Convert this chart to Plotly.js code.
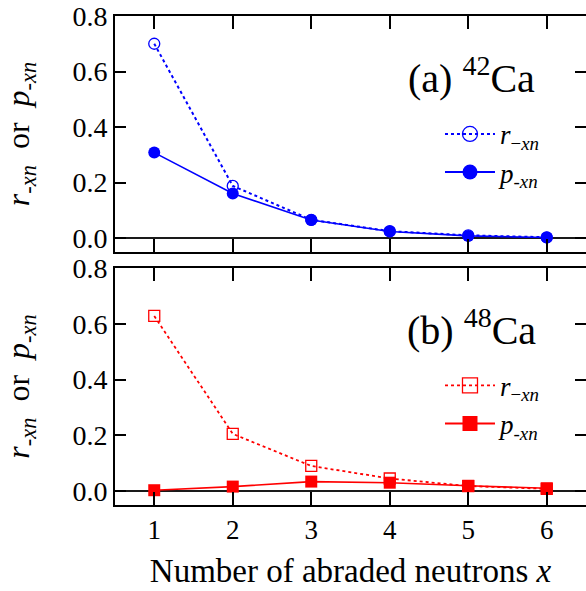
<!DOCTYPE html>
<html>
<head>
<meta charset="utf-8">
<script src="https://cdn.plot.ly/plotly-3.0.1.min.js"></script>
<style>html,body{margin:0;padding:0;background:#fff;}#chart{width:586px;height:591px;}</style>
</head>
<body>
<div id="chart"></div>
<script>
// Data
var xVals = [1, 2, 3, 4, 5, 6];
var ca42_r = [0.700, 0.188, 0.066, 0.025, 0.010, 0.003];
var ca42_p = [0.308, 0.161, 0.065, 0.024, 0.008, 0.002];
var ca48_r = [0.628, 0.205, 0.090, 0.045, 0.018, 0.008];
var ca48_p = [0.003, 0.016, 0.034, 0.030, 0.019, 0.010];
var xTickLabels = ['1', '2', '3', '4', '5', '6'];
var yTickVals = [0, 0.2, 0.4, 0.6, 0.8];
var rName = '<i>r</i><sub>\u2212<i>xn</i></sub>';
var pName = '<i>p</i><sub>-<i>xn</i></sub>';
var yTitle = '<i>r</i><sub>-<i>xn</i></sub>  or  <i>p</i><sub>-<i>xn</i></sub>';
var labelA = '(a) <sup>42</sup>Ca';
var labelB = '(b) <sup>48</sup>Ca';

var BLUE = '#0000ff', RED = '#ff0000';
var FONT = '"Liberation Serif", "Times New Roman", Times, serif';

var traces = [
  {x: xVals, y: ca42_r, xaxis: 'x', yaxis: 'y', mode: 'lines+markers', showlegend: false,
   line: {color: BLUE, width: 2, dash: 'dot'},
   marker: {symbol: 'circle-open', size: 11, color: BLUE, line: {width: 1.3, color: BLUE}}},
  {x: xVals, y: ca42_p, xaxis: 'x', yaxis: 'y', mode: 'lines+markers', showlegend: false,
   line: {color: BLUE, width: 1.6},
   marker: {symbol: 'circle', size: 12, color: BLUE}},
  {x: xVals, y: ca48_r, xaxis: 'x2', yaxis: 'y2', mode: 'lines+markers', showlegend: false,
   line: {color: RED, width: 1.8, dash: 'dot'},
   marker: {symbol: 'square-open', size: 11, color: RED, line: {width: 1.3, color: RED}}},
  {x: xVals, y: ca48_p, xaxis: 'x2', yaxis: 'y2', mode: 'lines+markers', showlegend: false,
   line: {color: RED, width: 1.6},
   marker: {symbol: 'square', size: 12, color: RED}},
  // legend entries (larger legend symbols)
  {x: [null], y: [null], xaxis: 'x', yaxis: 'y', mode: 'lines+markers', name: rName, legend: 'legend',
   line: {color: BLUE, width: 2, dash: 'dot'},
   marker: {symbol: 'circle-open', size: 15, color: BLUE, line: {width: 1.3, color: BLUE}}},
  {x: [null], y: [null], xaxis: 'x', yaxis: 'y', mode: 'lines+markers', name: pName, legend: 'legend',
   line: {color: BLUE, width: 2},
   marker: {symbol: 'circle', size: 15, color: BLUE}},
  {x: [null], y: [null], xaxis: 'x2', yaxis: 'y2', mode: 'lines+markers', name: rName, legend: 'legend2',
   line: {color: RED, width: 1.8, dash: 'dot'},
   marker: {symbol: 'square-open', size: 15, color: RED, line: {width: 1.3, color: RED}}},
  {x: [null], y: [null], xaxis: 'x2', yaxis: 'y2', mode: 'lines+markers', name: pName, legend: 'legend2',
   line: {color: RED, width: 2},
   marker: {symbol: 'square', size: 15, color: RED}}
];

function xAxis(showLabels, anchor) {
  return {
    anchor: anchor, domain: [0, 1], range: [0.5, 6.5],
    tickvals: xVals, ticktext: xTickLabels, showticklabels: showLabels,
    ticks: 'inside', ticklen: 13, tickwidth: 2, tickcolor: '#000',
    showline: true, linecolor: '#000', linewidth: 2, mirror: 'ticks',
    showgrid: false, zeroline: false,
    tickfont: {family: FONT, size: 27, color: '#000'}
  };
}
function yAxis(domain, anchor) {
  return {
    anchor: anchor, domain: domain, range: [-0.05, 0.8],
    tickvals: yTickVals, tickformat: '.1f',
    ticks: 'inside', ticklen: 11, tickwidth: 2, tickcolor: '#000',
    showline: true, linecolor: '#000', linewidth: 2, mirror: 'ticks',
    showgrid: false, zeroline: true, zerolinecolor: '#1a1a1a', zerolinewidth: 2,
    tickfont: {family: FONT, size: 28, color: '#000'},
    title: {text: yTitle, font: {family: FONT, size: 32, color: '#000'}, standoff: 36}
  };
}

var xa1 = xAxis(false, 'y');
var xa2 = xAxis(true, 'y2');
xa2.title = {text: 'Number of abraded neutrons <i>x</i>', font: {family: FONT, size: 33, color: '#000'}, standoff: 14};

var layout = {
  width: 586, height: 591,
  margin: {l: 115, r: 0, t: 16, b: 86},
  paper_bgcolor: '#fff', plot_bgcolor: '#fff',
  font: {family: FONT, color: '#000'},
  xaxis: xa1,
  yaxis: yAxis([0.5174, 1], 'x'),
  xaxis2: xa2,
  yaxis2: yAxis([0, 0.4847], 'x2'),
  legend: {x: 0.69, y: 0.808, xanchor: 'left', yanchor: 'top', bgcolor: 'rgba(0,0,0,0)', itemwidth: 50,
           font: {family: FONT, size: 27, color: '#000'}, tracegroupgap: 0},
  legend2: {x: 0.69, y: 0.294, xanchor: 'left', yanchor: 'top', bgcolor: 'rgba(0,0,0,0)', itemwidth: 50,
            font: {family: FONT, size: 27, color: '#000'}, tracegroupgap: 0},
  annotations: [
    {text: labelA, xref: 'paper', yref: 'paper', x: 0.756, y: 0.879, xanchor: 'center', yanchor: 'middle',
     showarrow: false, font: {family: FONT, size: 40, color: '#000'}},
    {text: labelB, xref: 'paper', yref: 'paper', x: 0.756, y: 0.364, xanchor: 'center', yanchor: 'middle',
     showarrow: false, font: {family: FONT, size: 40, color: '#000'}}
  ],
  showlegend: true
};

Plotly.newPlot('chart', traces, layout, {displayModeBar: false, staticPlot: true});
</script>
</body>
</html>
